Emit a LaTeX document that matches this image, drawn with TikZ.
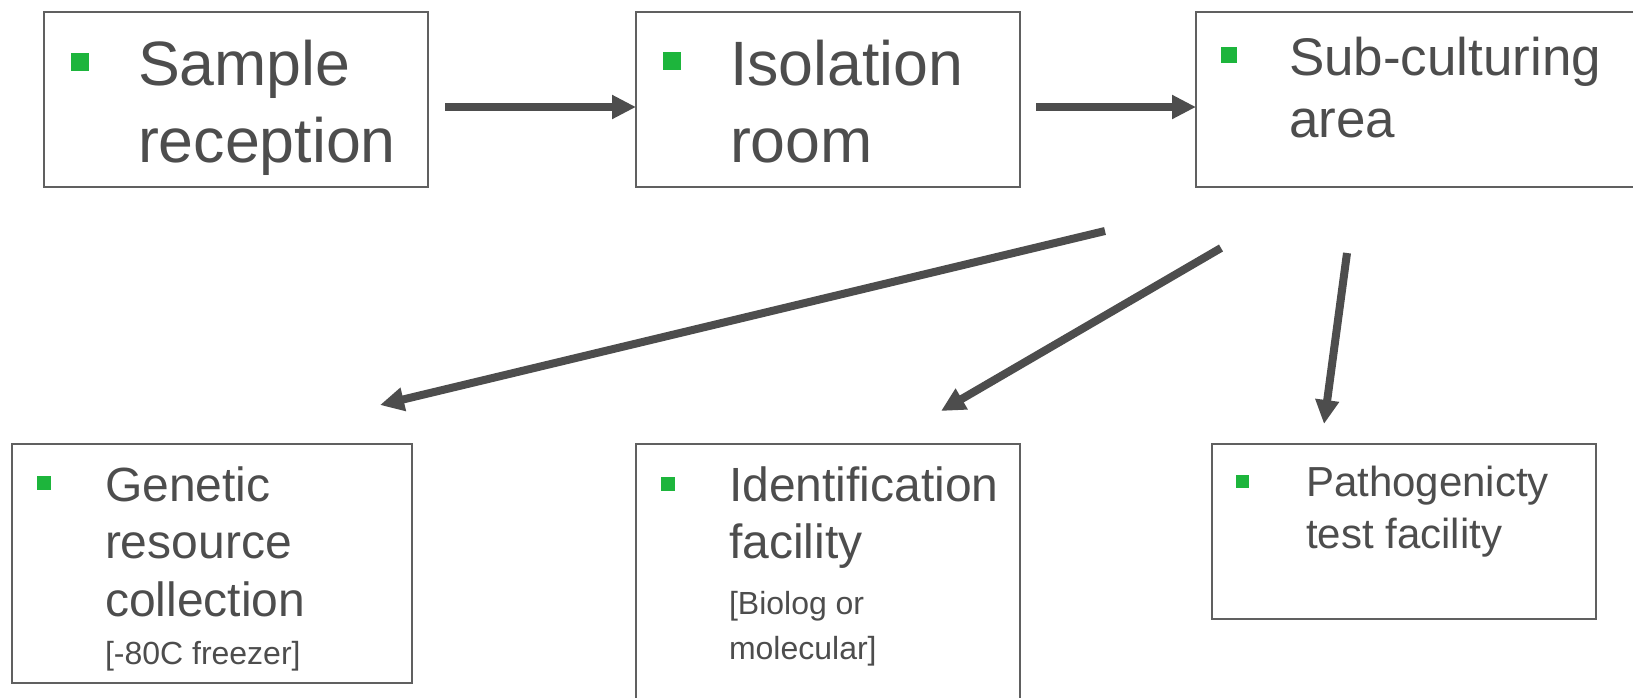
\documentclass[tikz,border=0pt]{standalone}
\usepackage{fontspec}
\setmainfont{Liberation Sans}
\usetikzlibrary{arrows.meta}
\definecolor{txt}{HTML}{4D4D4D}
\definecolor{bord}{HTML}{606060}
\definecolor{bul}{HTML}{1DB53C}
\definecolor{arr}{HTML}{4D4D4D}
\begin{document}
\begin{tikzpicture}[x=0.75pt,y=-0.75pt,
  box/.style 2 args={draw=bord, line width=1.5pt, inner sep=0pt, outer sep=0pt,
    anchor=north west, minimum width=#1*0.75pt, minimum height=#2*0.75pt},
  bullet/.style={fill=bul, inner sep=0pt, outer sep=0pt, minimum size=#1*0.75pt},
  line/.style={text=txt, anchor=base west, inner sep=0pt, outer sep=0pt},
  fbig/.style={font=\fontsize{47pt}{50pt}\selectfont},
  fsub/.style={font=\fontsize{39.75pt}{42pt}\selectfont},
  fmed/.style={font=\fontsize{36pt}{40pt}\selectfont},
  fpat/.style={font=\fontsize{31.5pt}{34pt}\selectfont},
  fsmall/.style={font=\fontsize{24pt}{27pt}\selectfont},
  flow/.style={draw=arr, line width=6pt, -{Triangle[length=18pt,width=17pt]}}]
\useasboundingbox (0,0) rectangle (1633,697);
\clip (0,0) rectangle (1633,697);

% boxes
\node[box={384}{175}] (b1) at (44,12) {};
\node[box={384}{175}] (b2) at (636,12) {};
\node[box={449}{175}] (b3) at (1196,12) {};
\node[box={400}{239}] (b4) at (12,444) {};
\node[box={384}{266}] (b5) at (636,444) {};
\node[box={384}{175}] (b6) at (1212,444) {};

% bullets
\node[bullet=18] (u1) at (79.5,61.5) {};
\node[bullet=18] (u2) at (671.5,61) {};
\node[bullet=16] (u3) at (1229,55) {};
\node[bullet=14] (u4) at (43.5,483) {};
\node[bullet=14] (u5) at (667.5,483.5) {};
\node[bullet=13] (u6) at (1242,481) {};

% texts
\node[line,fbig] (t1a) at (138,85) {Sample};
\node[line,fbig] (t1b) at (138,162) {reception};
\node[line,fbig] (t2a) at (730,85) {Isolation};
\node[line,fbig] (t2b) at (730,162) {room};
\node[line,fsub] (t3a) at (1289,75) {Sub-culturing};
\node[line,fsub] (t3b) at (1289,137) {area};
\node[line,fmed] (t4a) at (105,501) {Genetic};
\node[line,fmed] (t4b) at (105,558) {resource};
\node[line,fmed] (t4c) at (105,616) {collection};
\node[line,fsmall] (t4d) at (105,664) {[-80C freezer]};
\node[line,fmed] (t5a) at (729,501) {Identification};
\node[line,fmed] (t5b) at (729,558) {facility};
\node[line,fsmall] (t5c) at (729,614) {[Biolog or};
\node[line,fsmall] (t5d) at (729,659) {molecular]};
\node[line,fpat] (t6a) at (1306,496) {Pathogenicty};
\node[line,fpat] (t6b) at (1306,548) {test facility};

% connector ends
\coordinate (s1) at (445,107);
\coordinate (s2) at (1036,107);
\coordinate (s3) at (1105,231);
\coordinate (e3) at (380,405);
\coordinate (s4) at (1221,248);
\coordinate (e4) at (941,411);
\coordinate (s5) at (1347,253);
\coordinate (e5) at (1324,424);

\draw[flow] (s1) -- (s1 -| b2.west);
\draw[flow] (s2) -- (s2 -| b3.west);
\draw[flow] (s3) -- (e3);
\draw[flow] (s4) -- (e4);
\draw[flow] (s5) -- (e5);
\end{tikzpicture}
\end{document}
